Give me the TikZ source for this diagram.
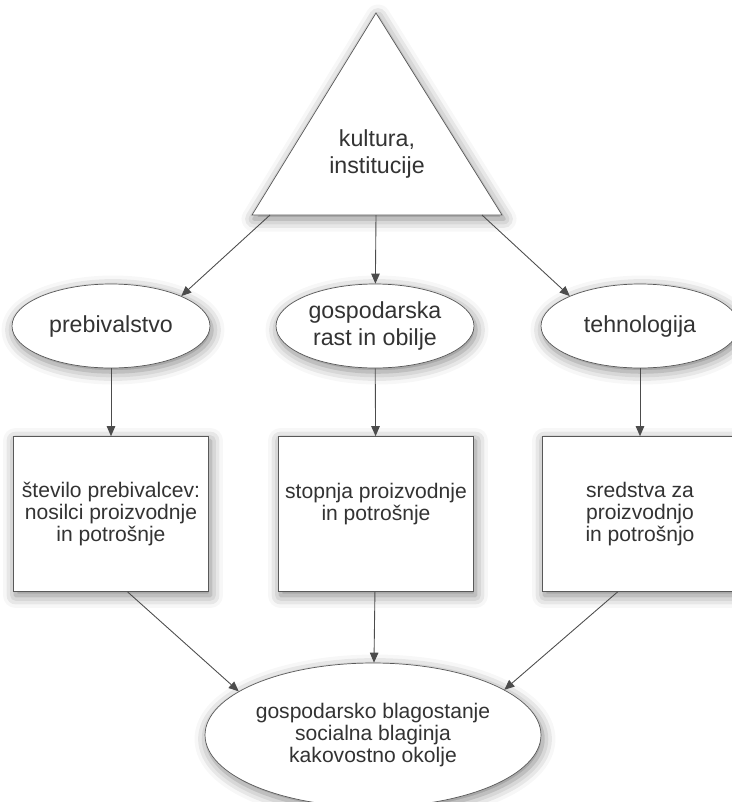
\documentclass[tikz,border=0pt]{standalone}
\usepackage{fontspec}
\setmainfont{Liberation Sans}
\usetikzlibrary{arrows.meta,shapes.geometric,shadows.blur}
\newcommand{\FT}{\fontsize{12}{12.6}\selectfont}
\newcommand{\FV}{\fontsize{13.2}{15.6}\selectfont}

\begin{document}
\begin{tikzpicture}[x=0.02cm,y=-0.02cm]
\tikzstyle{senca}=[blur shadow={shadow xshift=0.4mm,shadow yshift=-0.8mm,shadow blur radius=2.5mm,shadow opacity=50}]
\tikzstyle{oval}=[ellipse,draw=black!65,fill=white,senca,inner sep=0pt,minimum width=3.96cm,minimum height=1.68cm,font=\FV,text=black!80,align=center]
\tikzstyle{skatla}=[rectangle,draw=black!65,fill=white,senca,minimum width=3.9cm,minimum height=3.1cm,font=\FT,text=black!80,align=center]
\tikzstyle{puscica}=[draw=black!70,line width=0.5pt,-{Triangle[length=2mm,width=1.7mm]}]

\useasboundingbox (0,0) rectangle (731,802);

\draw[draw=black!65,fill=white,senca] (376,13) -- (502,215) -- (252,215) -- cycle;
\node[text=black!80,font=\FV,align=center] (kult) at (377,154) {kultura,\\institucije};
\coordinate (k1) at (270,215);
\coordinate (k2) at (376,215);
\coordinate (k3) at (482,215);

\node[oval] (pop)  at (111,326) {prebivalstvo};
\node[oval] (rast) at (375,326) {gospodarska\\rast in obilje};
\node[oval] (teh)  at (640,326) {tehnologija};

\node[skatla] (st1) at (111,514) {število prebivalcev:\\nosilci proizvodnje\\in potrošnje};
\node[skatla,text depth=0.5cm] (st2) at (376,514) {stopnja proizvodnje\\in potrošnje};
\node[skatla] (st3) at (640,514) {sredstva za\\proizvodnjo\\in potrošnjo};

\node[oval,font=\FT,minimum width=6.72cm,minimum height=2.88cm] (blag) at (373,735) {gospodarsko blagostanje\\socialna blaginja\\kakovostno okolje};

\draw[puscica] (k1) -- (pop.north east);
\draw[puscica] (k2) -- (rast);
\draw[puscica] (k3) -- (teh.north west);

\draw[puscica] (pop) -- (st1);
\draw[puscica] (rast) -- (st2);
\draw[puscica] (teh) -- (st3);

\draw[puscica] (st1.-78) -- (blag.162);
\draw[puscica] (st2) -- (blag);
\draw[puscica] (st3.-106) -- (blag.19);
\end{tikzpicture}
\end{document}
